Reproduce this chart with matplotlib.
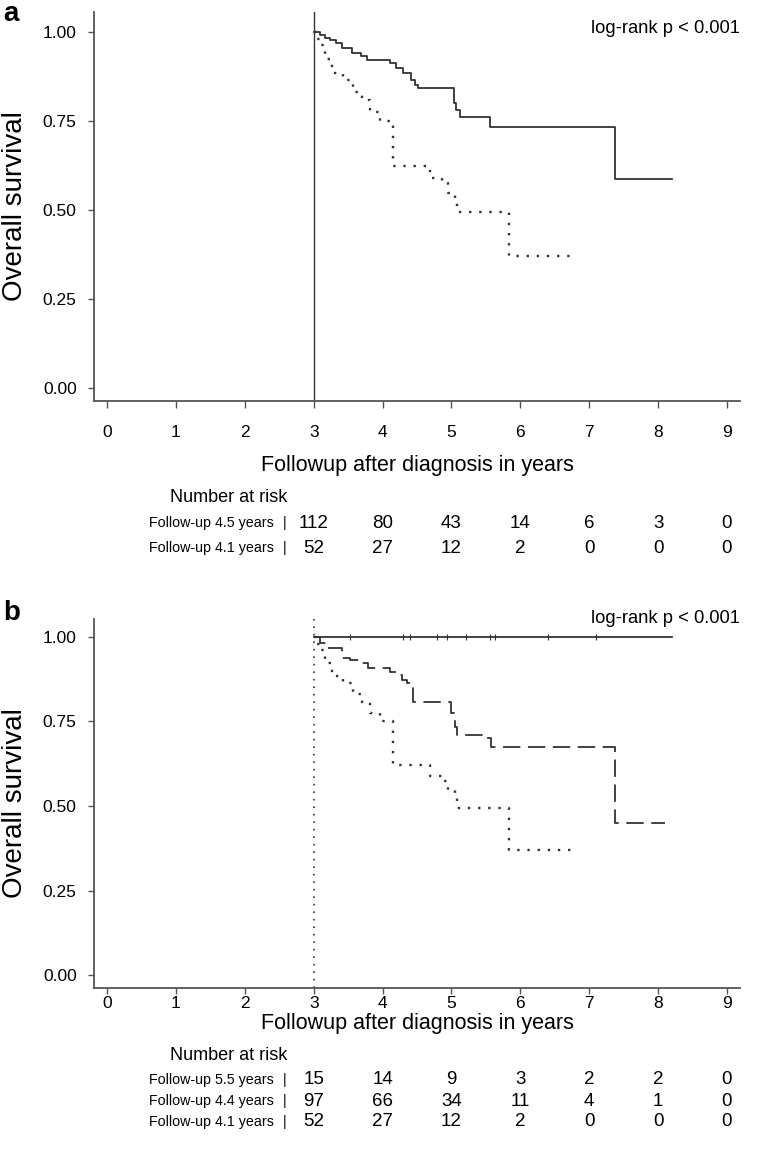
import matplotlib
matplotlib.use("Agg")
import matplotlib.pyplot as plt
from matplotlib.transforms import blended_transform_factory

# Kaplan-Meier steps (years, overall survival)
# panel a
a_solid_t = [3.0, 3.09, 3.16, 3.24, 3.33, 3.41, 3.55, 3.68, 3.78, 4.11, 4.2, 4.3, 4.42,
             4.47, 4.52, 5.03, 5.07, 5.12, 5.56, 7.37, 8.2]
a_solid_s = [1.0, 0.99, 0.982, 0.976, 0.968, 0.954, 0.94, 0.931, 0.921, 0.912, 0.898, 0.884,
             0.865, 0.851, 0.842, 0.80, 0.781, 0.762, 0.734, 0.586, 0.586]
# follow-up 4.1 years group, same in both panels
dot_t = [3.0, 3.04, 3.09, 3.17, 3.26, 3.43, 3.57, 3.70, 3.82, 3.96, 4.15, 4.69, 4.86,
         4.95, 5.05, 5.08, 5.83, 6.76]
dot_s = [1.0, 0.98, 0.962, 0.923, 0.884, 0.865, 0.832, 0.809, 0.776, 0.751, 0.622, 0.589,
         0.575, 0.547, 0.528, 0.495, 0.37, 0.37]
# panel b
b_solid_t = [3.0, 8.2]
b_solid_s = [1.0, 1.0]
b_solid_cens = [3.53, 4.3, 4.4, 4.79, 4.93, 5.21, 5.56, 5.63, 6.4, 7.1]
b_dash_t = [3.0, 3.09, 3.19, 3.41, 3.53, 3.67, 3.79, 4.11, 4.2, 4.28, 4.36, 4.44, 4.99,
            5.05, 5.08, 5.45, 5.58, 7.37, 8.1]
b_dash_s = [1.0, 0.981, 0.966, 0.937, 0.932, 0.922, 0.907, 0.897, 0.888, 0.873, 0.863,
            0.809, 0.774, 0.735, 0.71, 0.70, 0.674, 0.45, 0.45]

risk_times = [3, 4, 5, 6, 7, 8, 9]
a_risk_labels = ["Follow-up 4.5 years", "Follow-up 4.1 years"]
a_risk = [[112, 80, 43, 14, 6, 3, 0],
          [52, 27, 12, 2, 0, 0, 0]]
b_risk_labels = ["Follow-up 5.5 years", "Follow-up 4.4 years", "Follow-up 4.1 years"]
b_risk = [[15, 14, 9, 3, 2, 2, 0],
          [97, 66, 34, 11, 4, 1, 0],
          [52, 27, 12, 2, 0, 0, 0]]

plt.rcParams['font.family'] = ['Liberation Sans', 'DejaVu Sans']
W, H = 762, 1167
LC = '#333333'
AX = '#555555'


def fx(px):
    return px / W


def fy(py):
    return 1 - py / H


fig = plt.figure(figsize=(W / 100, H / 100), dpi=100)


def setup(ax, ylim, label_y, xpad, xlen):
    ax.set_xlim(-0.19, 9.19)
    ax.set_ylim(*ylim)
    for s in ['top', 'right']:
        ax.spines[s].set_visible(False)
    for s in ['left', 'bottom']:
        ax.spines[s].set_color(AX)
        ax.spines[s].set_linewidth(1.3)
    ax.set_xticks(range(10))
    ax.set_yticks([0, 0.25, 0.5, 0.75, 1.0])
    ax.set_yticklabels(['0.00', '0.25', '0.50', '0.75', '1.00'])
    ax.tick_params(axis='y', length=4.5, width=1, color=AX, pad=8, labelsize=12.5)
    ax.tick_params(axis='x', length=xlen, width=1, color=AX, pad=xpad, labelsize=12.5)
    ax.set_ylabel('Overall survival', fontsize=20)
    ax.yaxis.set_label_coords((28 - 94) / 646, 0.5)
    ax.set_xlabel('Followup after diagnosis in years', fontsize=15.5, va='center')
    ax.xaxis.set_label_coords(0.5, label_y)


def risk_table(ax, top, first, step, labels, rows):
    tr = blended_transform_factory(ax.transData, fig.transFigure)
    fig.text(fx(170), fy(top), 'Number at risk', fontsize=13, va='center')
    for i, (lab, vals) in enumerate(zip(labels, rows)):
        y = fy(top + first + i * step)
        fig.text(fx(274), y, lab, fontsize=10.3, ha='right', va='center')
        fig.text(fx(285), y, '|', fontsize=10.3, ha='center', va='center')
        for t, v in zip(risk_times, vals):
            ax.text(t, y, str(v), transform=tr, fontsize=13.5, ha='center', va='center')


# panel a
ax1 = fig.add_axes([fx(94), fy(401), 646 / W, 389 / H])
setup(ax1, (-0.037, 1.056), (401 - 465) / 389, 12, 5)
ax1.axvline(3, color=LC, lw=1.0)
ax1.step(a_solid_t, a_solid_s, where='post', color=LC, lw=1.3)
ax1.step(dot_t, dot_s, where='post', color=LC, lw=1.7, linestyle=(0, (1, 3.3)))
ax1.text(1.0, 1 - (33 - 12) / 389, 'log-rank p < 0.001', transform=ax1.transAxes,
         fontsize=13.2, ha='right', va='baseline')
fig.text(fx(3), fy(21), 'a', fontsize=20, fontweight='bold', va='baseline')
risk_table(ax1, 497, 26, 25, a_risk_labels, a_risk)

# panel b
ax2 = fig.add_axes([fx(94), fy(988), 646 / W, 369 / H])
setup(ax2, (-0.038, 1.053), (988 - 1023) / 369, 1.5, 4)
ax2.axvline(3, color=LC, lw=1.2, linestyle=(0, (1, 3.5)))
ax2.step(b_solid_t, b_solid_s, where='post', color=LC, lw=1.3)
ax2.plot(b_solid_cens, [1.0] * len(b_solid_cens), linestyle='none', marker='|',
         markersize=4, color=LC, markeredgewidth=0.8)
ax2.step(b_dash_t, b_dash_s, where='post', color=LC, lw=1.3, linestyle=(0, (9.6, 4.2)))
ax2.step(dot_t, dot_s, where='post', color=LC, lw=1.7, linestyle=(0, (1, 3.3)))
ax2.text(1.0, 1 - (623 - 619) / 369, 'log-rank p < 0.001', transform=ax2.transAxes,
         fontsize=13.2, ha='right', va='baseline')
fig.text(fx(3), fy(620), 'b', fontsize=20, fontweight='bold', va='baseline')
risk_table(ax2, 1055, 25, 21, b_risk_labels, b_risk)

fig.savefig('out.png', dpi=100)
